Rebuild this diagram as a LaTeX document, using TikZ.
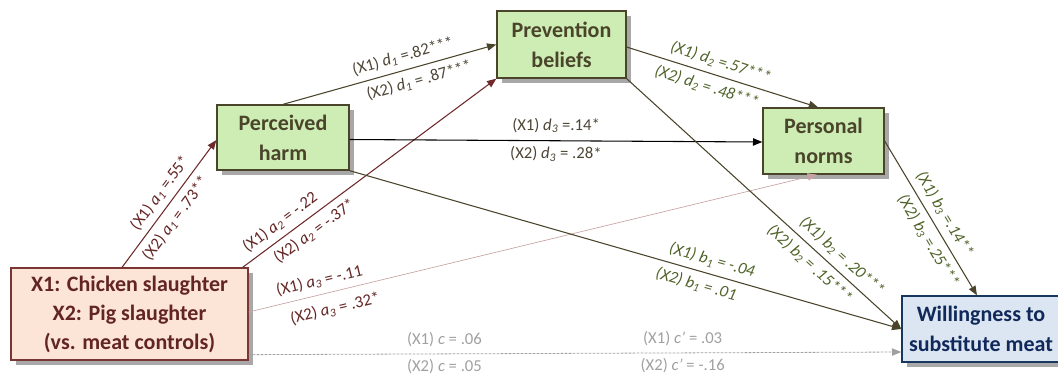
\documentclass[tikz,border=0pt]{standalone}
\usepackage{fontspec}
\setmainfont{Carlito}
\usetikzlibrary{arrows.meta,shadows,calc}
\definecolor{xfill}{HTML}{FCE4D6}
\definecolor{xdraw}{HTML}{7A3535}
\definecolor{xtext}{HTML}{632523}
\definecolor{gfill}{HTML}{CDEDB4}
\definecolor{gdraw}{HTML}{4A452A}
\definecolor{gtext}{HTML}{4A452A}
\definecolor{wfill}{HTML}{DCE6F2}
\definecolor{wdraw}{HTML}{17375E}
\definecolor{wtext}{HTML}{10285A}
\definecolor{redln}{HTML}{6E2A2A}
\definecolor{pinkln}{HTML}{C9A3A3}
\definecolor{oliveln}{HTML}{4A452A}
\definecolor{olivetx}{HTML}{4F6228}
\definecolor{browntx}{HTML}{4D4535}
\definecolor{graytx}{HTML}{A0A0A0}
\begin{document}
\begin{tikzpicture}[x=0.75pt,y=0.75pt,
  box/.style={rectangle, line width=1pt, align=center, inner sep=0pt,
    font=\fontsize{16.5}{22.5}\selectfont\bfseries,
    drop shadow={shadow xshift=3.5pt, shadow yshift=-3.5pt, fill=black!40, opacity=0.85}},
  gbox/.style={box, draw=gdraw, fill=gfill, text=gtext},
  xbox/.style={box, draw=xdraw, fill=xfill, text=xtext, font=\fontsize{16.5}{21.75}\selectfont\bfseries},
  wbox/.style={box, draw=wdraw, fill=wfill, text=wtext},
  tip/.style={-{Triangle[length=7pt,width=5.5pt]}},
  lbl/.style={font=\fontsize{12.5}{14}\selectfont, inner sep=1pt, sloped},
  redlbl/.style={lbl, text=xtext},
  brlbl/.style={lbl, text=browntx},
  ollbl/.style={lbl, text=olivetx, font=\fontsize{12.5}{14}\selectfont\itshape},
  grlbl/.style={font=\fontsize{12.5}{14}\selectfont, inner sep=1pt, text=graytx}
]
\useasboundingbox (0,0) rectangle (1058,-376);
\clip (0,0) rectangle (1058,-376);

% nodes
\node[xbox, minimum width=177.75pt, minimum height=69pt] (X) at (129.5,-314) {X1: Chicken slaughter\\X2: Pig slaughter\\(vs. meat controls)};
\node[gbox, minimum width=99pt, minimum height=48.75pt] (PH) at (283,-137.5) {Perceived\\harm};
\node[gbox, minimum width=96.75pt, minimum height=50.25pt] (PB) at (561.5,-44.5) {Prevention\\beliefs};
\node[gbox, minimum width=90.75pt, minimum height=49.5pt] (PN) at (823.5,-141) {Personal\\norms};
\node[wbox, minimum width=118.5pt, minimum height=49.5pt] (W) at (981,-329) {Willingness to\\substitute meat};

% a paths
\draw[tip, redln, line width=0.8pt] ([xshift=-5.6pt]X.north) --
  node[redlbl, pos=0.52, above=3.5pt] {(X1) \textit{a\textsubscript{1}} =.55*}
  node[redlbl, pos=0.45, below=3.5pt] {(X2) \textit{a\textsubscript{1}} = .73**}
  ([yshift=-1.9pt]PH.west);
\draw[tip, redln, line width=0.8pt] ([xshift=-4.5pt]X.north east) --
  node[redlbl, pos=0.18, above=3.5pt] {(X1) \textit{a\textsubscript{2}} = -.22}
  node[redlbl, pos=0.25, below=3.5pt] {(X2) \textit{a\textsubscript{2}} = -.37*}
  (PB.south west);
\draw[tip, pinkln, line width=0.5pt] ([yshift=1.5pt]X.east) --
  node[redlbl, pos=0.13, above=3.5pt] {(X1) \textit{a\textsubscript{3}} = -.11}
  node[redlbl, pos=0.145, below=6pt] {(X2) \textit{a\textsubscript{3}} = .32*}
  ([xshift=-4.9pt]PN.south);

% c path
\draw[tip, graytx, line width=0.6pt, dash pattern=on 2pt off 1pt] ([yshift=4.5pt]X.south east) --
  node[grlbl, pos=0.30, above=4pt] {(X1) \textit{c} = .06}
  node[grlbl, pos=0.30, below=2.5pt] {(X2) \textit{c} = .05}
  node[grlbl, pos=0.665, above=4pt] {(X1) \textit{c’} = .03}
  node[grlbl, pos=0.665, below=2.5pt] {(X2) \textit{c’} = -.16}
  ([yshift=-17.25pt]W.west);

% d paths
\draw[tip, oliveln, line width=0.8pt] (PH.north) --
  node[brlbl, pos=0.58, above=3.5pt] {(X1) \textit{d\textsubscript{1}} =.82***}
  node[brlbl, pos=0.62, below=3.5pt] {(X2) \textit{d\textsubscript{1}} = .87***}
  (PB.west);
\draw[tip, black, line width=0.8pt] ([yshift=-1.5pt]PH.east) --
  node[brlbl, pos=0.5, above=4.5pt] {(X1) \textit{d\textsubscript{3}} =.14*}
  node[brlbl, pos=0.5, below=3pt] {(X2) \textit{d\textsubscript{3}} = .28*}
  ([yshift=-0.75pt]PN.west);
\draw[tip, oliveln, line width=0.8pt] ([yshift=-1.9pt]PB.east) --
  node[ollbl, pos=0.47, above=3.5pt] {(X1) \textit{d}\textsubscript{2} =.57***}
  node[ollbl, pos=0.44, below=3.5pt] {(X2) \textit{d}\textsubscript{2} = .48***}
  ([xshift=-4pt]PN.north);

% b paths
\draw[tip, oliveln, line width=0.8pt] (PH.south east) --
  node[ollbl, pos=0.65, above=3.5pt] {(X1) \textit{b}\textsubscript{1} = -.04}
  node[ollbl, pos=0.635, below=3.5pt] {(X2) \textit{b}\textsubscript{1} = .01}
  (W.west);
\draw[tip, oliveln, line width=0.8pt] (PB.south east) --
  node[ollbl, pos=0.75, above=3.5pt] {(X1) \textit{b}\textsubscript{2} = .20***}
  node[ollbl, pos=0.70, below=3.5pt] {(X2) \textit{b}\textsubscript{2} = .15***}
  (W.west);
\draw[tip, oliveln, line width=0.8pt] (PN.east) --
  node[ollbl, pos=0.52, above=3.5pt] {(X1) \textit{b}\textsubscript{3} =.14**}
  node[ollbl, pos=0.6, below=3.5pt] {(X2) \textit{b}\textsubscript{3} =.25***}
  ([xshift=-3pt]W.north);
\end{tikzpicture}
\end{document}
